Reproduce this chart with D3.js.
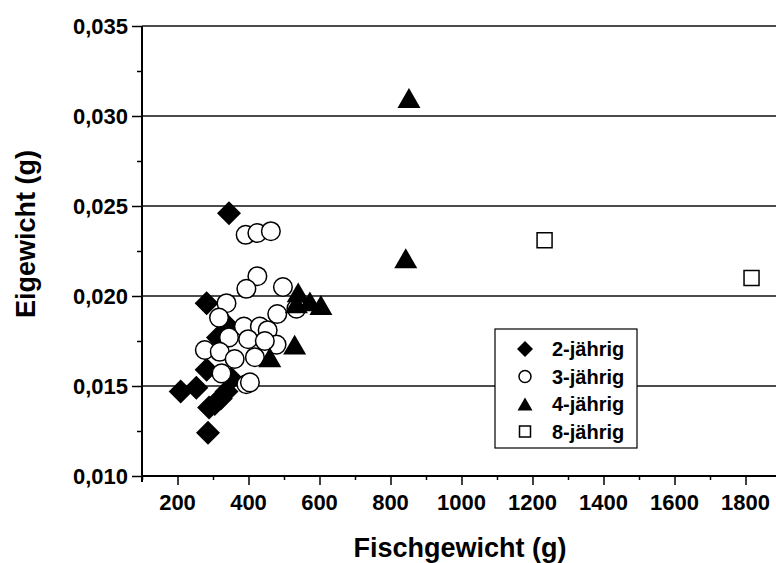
<!DOCTYPE html>
<html>
<head>
<meta charset="utf-8">
<script src="https://cdn.jsdelivr.net/npm/d3@7"></script>
<style>
  body { margin: 0; background: #fff; }
  svg { display: block; font-family: "Liberation Sans", Arial, sans-serif; font-weight: bold; }
</style>
</head>
<body>
<svg id="chart"></svg>
<script>
// age groups (legend)
var ageGroups = ["2-jährig", "3-jährig", "4-jährig", "8-jährig"];

// 2-jährig
var fish2 = [345, 282, 209, 253, 282, 286, 289, 305, 322, 338, 352, 314, 343];
var egg2  = [0.0246, 0.0196, 0.0147, 0.0149, 0.0159, 0.0124, 0.0138, 0.0140, 0.0143, 0.0147, 0.0154, 0.0177, 0.0183];

// 3-jährig
var fish3 = [392, 425, 463, 425, 394, 497, 338, 481, 535, 317, 387, 432, 454, 345, 399, 479, 446, 277, 319, 361, 418, 324, 394, 404];
var egg3  = [0.0234, 0.0235, 0.0236, 0.0211, 0.0204, 0.0205, 0.0196, 0.0190, 0.0193, 0.0188, 0.0183, 0.0183, 0.0181, 0.0177, 0.0176, 0.0173, 0.0175, 0.0170, 0.0169, 0.0165, 0.0166, 0.0157, 0.0151, 0.0152];

// 4-jährig
var fish4 = [540, 573, 604, 535, 530, 460, 852, 843];
var egg4  = [0.0202, 0.0197, 0.0195, 0.0196, 0.0173, 0.0166, 0.0310, 0.0221];

// 8-jährig
var fish8 = [1234, 1817];
var egg8  = [0.0231, 0.0210];

var xTicks = [200, 400, 600, 800, 1000, 1200, 1400, 1600, 1800];
var yTicks = [0.010, 0.015, 0.020, 0.025, 0.030, 0.035];

var width = 776, height = 563;
var margin = {left: 142, top: 26, bottom: 87};

var svg = d3.select("#chart").attr("width", width).attr("height", height);

var x = d3.scaleLinear().domain([100, 1900]).range([margin.left, margin.left + 1800 * 0.355]);
var y = d3.scaleLinear().domain([0.010, 0.035]).range([height - margin.bottom, margin.top]);

var fmt = function(d) { return d3.format(".3f")(d).replace(".", ","); };

// horizontal grid lines
svg.append("g").selectAll("line")
  .data(yTicks.slice(1))
  .enter().append("line")
  .attr("x1", x(100)).attr("x2", width)
  .attr("y1", function(d) { return y(d); })
  .attr("y2", function(d) { return y(d); })
  .attr("stroke", "#111").attr("stroke-width", 1.5);

// x axis: major + minor ticks
var xAxis = svg.append("g").attr("transform", "translate(0," + y(0.010) + ")");
xAxis.call(d3.axisBottom(x).tickValues(d3.range(100, 1900, 100)).tickSize(4).tickFormat(""));
xAxis.selectAll(".tick").filter(function(d) { return d % 200 === 0; }).select("line").attr("y2", 9);
xAxis.selectAll("line").attr("stroke", "#000").attr("stroke-width", 1.5);
xAxis.select(".domain").remove();
xAxis.append("line").attr("x1", x(100)).attr("x2", width).attr("stroke", "#000").attr("stroke-width", 2);
xAxis.selectAll(".lbl").data(xTicks).enter().append("text")
  .attr("class", "lbl")
  .attr("x", function(d) { return x(d); })
  .attr("y", 34)
  .attr("text-anchor", "middle")
  .attr("font-family", "Liberation Sans, Arial, sans-serif")
  .attr("font-size", 22)
  .attr("fill", "#000")
  .text(function(d) { return d; });

// y axis: major + minor ticks
var yAxis = svg.append("g").attr("transform", "translate(" + x(100) + ",0)");
yAxis.call(d3.axisLeft(y).tickValues(d3.range(0, 11).map(function(i) { return 0.010 + i * 0.0025; })).tickSize(5).tickFormat(""));
yAxis.selectAll(".tick line").attr("x2", function(d) { return Math.round(d * 10000) % 50 === 0 ? -10 : -5; });
yAxis.selectAll("line").attr("stroke", "#000").attr("stroke-width", 1.5);
yAxis.select(".domain").remove();
yAxis.append("line").attr("y1", y(0.035)).attr("y2", y(0.010) + 6).attr("stroke", "#000").attr("stroke-width", 2);
yAxis.selectAll(".lbl").data(yTicks).enter().append("text")
  .attr("class", "lbl")
  .attr("x", -14)
  .attr("y", function(d) { return y(d); })
  .attr("dy", "0.36em")
  .attr("text-anchor", "end")
  .attr("font-family", "Liberation Sans, Arial, sans-serif")
  .attr("font-size", 22)
  .attr("fill", "#000")
  .text(fmt);

// axis titles
svg.append("text")
  .attr("x", 460).attr("y", 557)
  .attr("text-anchor", "middle").attr("font-size", 27)
  .text("Fischgewicht (g)");
svg.append("text")
  .attr("transform", "translate(35,234) rotate(-90)")
  .attr("text-anchor", "middle").attr("font-size", 27)
  .text("Eigewicht (g)");

// marker shapes
function diamond(r) { return "M0," + (-r) + "L" + r + ",0L0," + r + "L" + (-r) + ",0Z"; }
function triangle(s) { var h = s * 0.866; return "M0," + (-h / 2) + "L" + (s / 2) + "," + (h / 2) + "L" + (-s / 2) + "," + (h / 2) + "Z"; }
function square(s) { return "M" + (-s / 2) + "," + (-s / 2) + "h" + s + "v" + s + "h" + (-s) + "Z"; }

var pts = function(xs, ys) { return xs.map(function(v, i) { return [v, ys[i]]; }); };
var tr = function(d) { return "translate(" + x(d[0]) + "," + y(d[1]) + ")"; };

var plot = svg.append("g");

plot.selectAll(".d2").data(pts(fish2, egg2)).enter().append("path")
  .attr("transform", tr).attr("d", diamond(12)).attr("fill", "#000");

plot.selectAll(".d3").data(pts(fish3, egg3)).enter().append("circle")
  .attr("transform", tr).attr("r", 9.3)
  .attr("fill", "#fff").attr("stroke", "#000").attr("stroke-width", 1.5);

plot.selectAll(".d4").data(pts(fish4, egg4)).enter().append("path")
  .attr("transform", tr).attr("d", triangle(23)).attr("fill", "#000");

plot.selectAll(".d8").data(pts(fish8, egg8)).enter().append("path")
  .attr("transform", tr).attr("d", square(15))
  .attr("fill", "#fff").attr("stroke", "#000").attr("stroke-width", 1.5);

// legend
var legend = svg.append("g").attr("transform", "translate(495,329)");
legend.append("rect").attr("width", 142).attr("height", 119)
  .attr("fill", "#fff").attr("stroke", "#000").attr("stroke-width", 1.2);
var symbols = [
  function(g) { g.append("path").attr("d", diamond(8)).attr("fill", "#000"); },
  function(g) { g.append("circle").attr("r", 6).attr("fill", "#fff").attr("stroke", "#000").attr("stroke-width", 1.5); },
  function(g) { g.append("path").attr("d", triangle(15)).attr("fill", "#000"); },
  function(g) { g.append("path").attr("d", square(11)).attr("fill", "#fff").attr("stroke", "#000").attr("stroke-width", 1.5); }
];
ageGroups.forEach(function(name, i) {
  var row = legend.append("g").attr("transform", "translate(0," + (20 + i * 27.5) + ")");
  var sym = row.append("g").attr("transform", "translate(30,0)");
  symbols[i](sym);
  row.append("text").attr("x", 57).attr("dy", "0.36em").attr("font-size", 20).text(name);
});
</script>
</body>
</html>
